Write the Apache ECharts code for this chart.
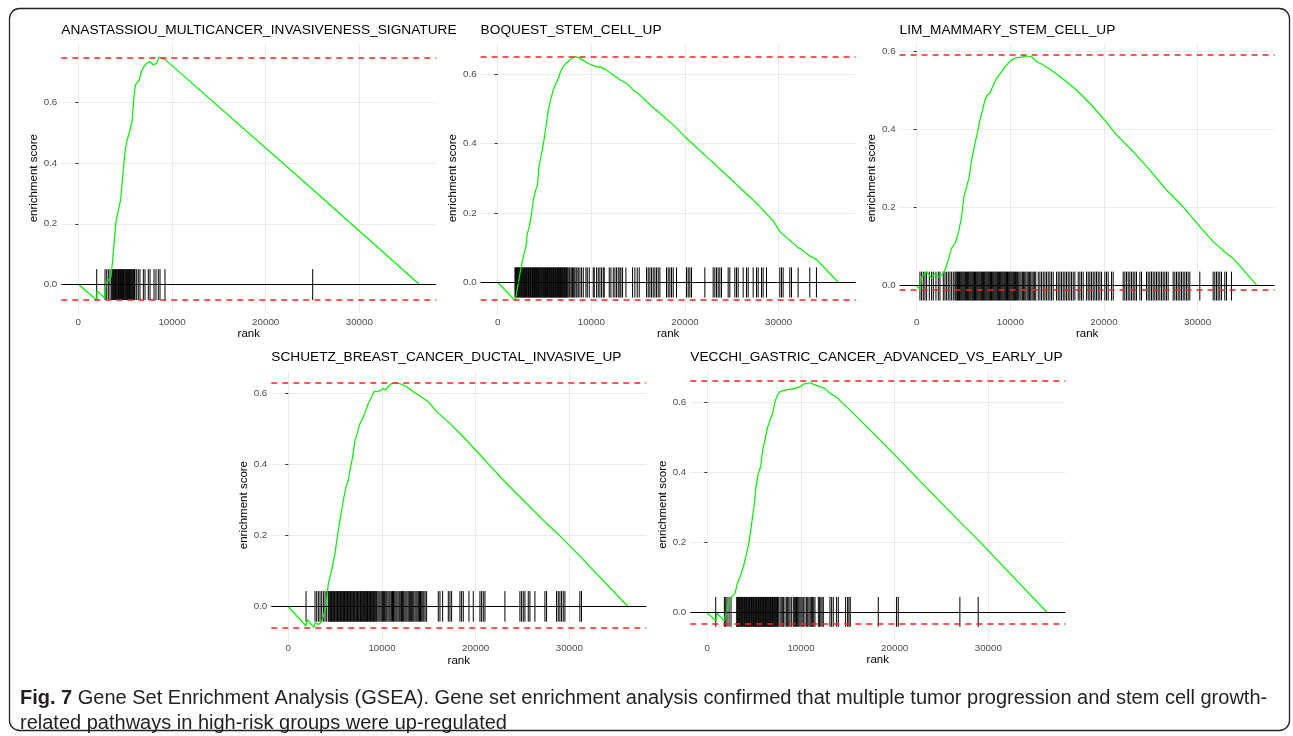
<!DOCTYPE html>
<html>
<head>
<meta charset="utf-8">
<script src="https://cdn.jsdelivr.net/npm/echarts@6/dist/echarts.min.js"></script>
<style>
  html, body { margin: 0; padding: 0; background: #fff; }
  #chart { width: 1293px; height: 736px; }
</style>
</head>
<body>
<div id="chart"></div>
<script>
// gene set names (panel titles)
const setNames = [
  'ANASTASSIOU_MULTICANCER_INVASIVENESS_SIGNATURE',
  'BOQUEST_STEM_CELL_UP',
  'LIM_MAMMARY_STEM_CELL_UP',
  'SCHUETZ_BREAST_CANCER_DUCTAL_INVASIVE_UP',
  'VECCHI_GASTRIC_CANCER_ADVANCED_VS_EARLY_UP'
]
const xTicks = [0, 10000, 20000, 30000]
const yTicks = [0, 0.2, 0.4, 0.6]

// max / min of running enrichment score (red dashed lines)
const esMax = [0.754, 0.653, 0.588, 0.629, 0.655]
const esMin = [-0.053, -0.052, -0.013, -0.058, -0.0265]
// vertical extent of the hit ticks
const tickTop = [0.05, 0.043, 0.036, 0.044, 0.045]
const tickBottom = [-0.052, -0.044, -0.038, -0.042, -0.04]

// running enrichment score [rank, es]
const es1 = [[0,0],[1956,-0.052],[1992,-0.021],[2810,-0.046],[2952,0.006],[3237,0.014],[3486,0.025],[3664,0.08],[3842,0.146],[4020,0.207],[4162,0.229],[4375,0.235],[4517,0.279],[4731,0.356],[4944,0.427],[5158,0.471],[5371,0.493],[5513,0.499],[5727,0.537],[5940,0.62],[6083,0.659],[6296,0.664],[6509,0.675],[6723,0.703],[7007,0.719],[7292,0.73],[7648,0.736],[8003,0.725],[8359,0.73],[8608,0.75],[8786,0.754],[9248,0.743],[25006,0.314],[36389,0]]
const es2 = [[0,0],[1885,-0.053],[2383,0.026],[2739,0.074],[3024,0.103],[3166,0.141],[3379,0.16],[3628,0.199],[3806,0.2375],[4055,0.266],[4233,0.276],[4411,0.334],[4695,0.372],[4944,0.41],[5158,0.449],[5407,0.497],[5656,0.526],[5940,0.555],[6225,0.574],[6474,0.588],[6723,0.608],[7007,0.622],[7292,0.632],[7541,0.637],[7897,0.646],[8252,0.651],[8608,0.649],[8964,0.643],[9497,0.634],[10031,0.627],[10564,0.622],[11098,0.62],[11631,0.612],[12343,0.598],[13054,0.584],[13765,0.574],[14477,0.555],[15188,0.54],[16255,0.512],[17322,0.4875],[18745,0.454],[19990,0.42],[22302,0.3625],[24792,0.3],[27282,0.2375],[29416,0.178],[30128,0.146],[32084,0.1],[32440,0.095],[33330,0.076],[34041,0.066],[36353,0]]
const es3 = [[0,0],[356,-0.011],[427,-0.003],[534,0.023],[640,0.027],[1067,0.036],[1600,0.019],[1956,0.032],[2312,0.023],[2668,0.027],[3023,0.04],[3379,0.066],[3735,0.096],[4091,0.108],[4446,0.134],[4802,0.177],[5051,0.228],[5336,0.2535],[5620,0.279],[5869,0.322],[6225,0.3645],[6474,0.39],[6758,0.424],[7043,0.45],[7292,0.4755],[7541,0.488],[7825,0.4925],[8181,0.514],[8537,0.531],[9070,0.548],[9604,0.565],[10137,0.578],[10671,0.584],[11204,0.585],[11738,0.588],[12272,0.586],[12806,0.574],[13517,0.565],[14228,0.554],[14940,0.542],[16007,0.522],[17074,0.501],[18497,0.467],[19920,0.4285],[21342,0.386],[23121,0.343],[24899,0.296],[26678,0.245],[28456,0.202],[30235,0.151],[31658,0.1127],[33081,0.083],[33792,0.07],[36353,0]]
const es4 = [[0,0],[1885,-0.054],[2027,-0.036],[2739,-0.058],[2881,-0.045],[3201,-0.05],[3557,-0.042],[4020,0],[4268,0.0655],[4624,0.103],[4980,0.15],[5229,0.197],[5513,0.243],[5869,0.2995],[6154,0.337],[6403,0.356],[6652,0.393],[6865,0.421],[7114,0.468],[7363,0.487],[7648,0.515],[7932,0.529],[8217,0.548],[8537,0.571],[8893,0.59],[9142,0.604],[9426,0.604],[9782,0.607],[10137,0.613],[10386,0.609],[10671,0.618],[11027,0.627],[11560,0.629],[12094,0.625],[12628,0.618],[13339,0.604],[14050,0.592],[14940,0.576],[15829,0.548],[17251,0.515],[18674,0.4775],[20808,0.417],[22943,0.356],[24721,0.309],[27567,0.234],[28634,0.208],[31124,0.142],[36282,0]]
const es5 = [[0,0],[925,-0.024],[996,0],[1814,-0.024],[1992,-0.002],[2241,0.027],[2597,0.046],[2952,0.055],[3201,0.0835],[3486,0.1026],[3842,0.131],[4197,0.169],[4482,0.207],[4731,0.2545],[4980,0.302],[5193,0.359],[5442,0.397],[5691,0.416],[5905,0.4635],[6154,0.492],[6403,0.525],[6687,0.549],[6972,0.568],[7221,0.601],[7470,0.62],[7754,0.63],[8288,0.634],[8821,0.636],[9355,0.639],[9889,0.644],[10422,0.653],[10956,0.655],[11489,0.649],[12023,0.644],[12556,0.639],[13090,0.625],[13801,0.6135],[15224,0.577],[18248,0.497],[20204,0.444],[26962,0.259],[28919,0.207],[36318,0]]

// ranks of the gene set members (hit ticks)
const hits1 = [1960,2850,3030,3200,3380,3560,3610,3680,3740,3830,3890,3960,4020,4100,4150,4230,4300,4360,4420,4490,4560,4620,4700,4770,4830,4900,4980,5060,5120,5190,5260,5340,5410,5470,5550,5620,5700,5760,5840,5910,5990,6050,6230,6400,6580,6940,7120,7470,7650,8080,8290,8540,8720,9250,25020]
const hits2 = [1850,1910,1990,2050,2120,2190,2260,2320,2400,2470,2530,2600,2680,2740,2810,2880,2950,3020,3090,3150,3230,3300,3360,3440,3510,3570,3650,3720,3790,3850,3930,4000,4060,4140,4210,4270,4350,4420,4490,4550,4630,4700,4760,4840,4910,4980,5040,5120,5190,5250,5330,5400,5470,5530,5610,5680,5740,5820,5890,5960,6020,6100,6170,6230,6310,6380,6450,6510,6590,6660,6720,6800,6870,6940,7000,7080,7150,7210,7290,7360,7430,7520,7640,7730,7860,7990,8080,8230,8370,8470,8610,8786,8964,9142,9426,9568,9782,10209,10316,10564,10742,10920,11098,11276,11382,11916,12094,12343,12521,12699,12877,13054,13161,13339,13695,14406,14655,14904,15117,15900,16078,16256,16433,16611,16789,16967,17144,17322,18034,18212,18390,18568,18745,19101,20168,20346,20524,20702,22124,23014,23192,23370,23547,23725,23903,24614,24792,25325,25503,25681,26215,26571,26748,27282,27638,27816,28171,28349,28705,30128,30306,30483,31195,31373,32084,33329,34040]
const hits3 = [352,530,708,886,1064,1352,1600,1778,2063,2312,2490,2846,3023,3201,3379,3557,3735,3913,4090,4180,4290,4370,4480,4570,4660,4760,4850,4950,5040,5140,5230,5330,5420,5520,5610,5710,5800,5900,5990,6090,6180,6280,6370,6470,6560,6660,6750,6850,6940,7040,7130,7230,7320,7420,7510,7610,7700,7800,7890,7990,8080,8180,8270,8370,8460,8560,8650,8750,8840,8940,9030,9130,9220,9320,9410,9510,9600,9700,9790,9890,9980,10080,10170,10270,10360,10460,10550,10650,10780,10900,11030,11150,11290,11400,11540,11660,11800,11920,12060,12180,12320,12450,12600,12720,12983,13161,13339,13517,13695,13872,14050,14228,14406,14584,14940,15117,15295,15473,15651,15829,16007,16184,16362,16540,16718,16896,17251,17429,17607,17785,18141,18319,18496,18674,18852,19030,19208,19386,19564,19741,20097,20275,20453,20808,20986,22053,22231,22409,22587,22765,22943,23121,23298,23476,23832,24010,24543,24721,24899,25077,25255,25433,25610,25788,25966,26144,26322,26500,26678,26856,27389,27567,27745,27923,28101,28279,28456,28634,28812,28990,29168,30235,31658,31836,32013,32191,32369,32547,32903,33081,33614]
const hits4 = [1889,2849,3027,3205,3383,3561,3739,3916,4094,4272,4350,4440,4510,4600,4680,4760,4840,4920,5000,5090,5170,5250,5330,5410,5490,5580,5660,5740,5820,5900,5990,6070,6150,6230,6310,6400,6480,6560,6640,6720,6810,6890,6970,7050,7130,7220,7300,7380,7460,7540,7630,7710,7790,7870,7950,8040,8120,8200,8280,8360,8450,8530,8610,8690,8770,8860,8940,9020,9100,9180,9270,9350,9430,9560,9680,9790,9920,10040,10150,10280,10400,10510,10640,10760,10870,11000,11120,11230,11360,11480,11590,11720,11840,11950,12080,12200,12310,12440,12560,12670,12800,12920,13030,13160,13280,13390,13520,13640,13750,13880,14000,14110,14240,14360,14470,14600,14765,16010,16188,16473,17078,17256,17434,18323,18501,18679,19284,19746,20458,20636,20813,20991,23125,24726,24904,25082,25260,25616,25793,26327,27394,27572,28639,28817,28995,29173,29351,29529,31129,31302]
const hits5 = [893,1818,1960,2102,2316,2529,3134,3210,3290,3360,3440,3510,3590,3660,3740,3810,3890,3960,4040,4110,4190,4260,4340,4410,4490,4560,4640,4710,4790,4860,4940,5010,5090,5160,5240,5310,5390,5460,5540,5610,5690,5760,5840,5910,5990,6060,6140,6210,6290,6360,6440,6510,6590,6660,6740,6810,6890,6960,7040,7110,7190,7260,7340,7410,7490,7580,7758,7880,8000,8120,8291,8469,8580,8700,8830,9003,9180,9290,9400,9520,9640,9760,9880,10000,10120,10250,10425,10600,10720,10850,10980,11110,11240,11360,11490,11850,11990,12120,12250,12381,13092,13270,13448,13803,13981,14764,14977,15119,15262,18250,20206,20384,26964,28920]

const captionLines = [
  'Gene Set Enrichment Analysis (GSEA). Gene set enrichment analysis confirmed that multiple tumor progression and stem cell growth-',
  'related pathways in high-risk groups were up-regulated'
]

const esList = [es1, es2, es3, es4, es5]
const hitList = [hits1, hits2, hits3, hits4, hits5]

const FONT = '"Liberation Sans", Arial, Helvetica, sans-serif'
// plot areas, in px
const panels = [
  { left: 61.3, top: 43.5, height: 269.5, yMin: -0.0948, yMax: 0.7955 },
  { left: 480.6, top: 43.5, height: 269.5, yMin: -0.0886, yMax: 0.6888 },
  { left: 899.6, top: 43.5, height: 269.5, yMin: -0.0699, yMax: 0.620 },
  { left: 271.3, top: 370.7, height: 268.8, yMin: -0.092, yMax: 0.663 },
  { left: 690.3, top: 370.5, height: 268.5, yMin: -0.0748, yMax: 0.690 }
]
const W = 375

const chart = echarts.init(document.getElementById('chart'))

const grid = [], xAxis = [], yAxis = [], series = [], title = []
const redDash = { color: '#ff2020', type: [6, 5], width: 1.7, opacity: 1 }

panels.forEach((p, i) => {
  grid.push({ left: p.left, top: p.top, width: W, height: p.height, containLabel: false })
  title.push({
    text: setNames[i], left: p.left, top: p.top - 20.5, padding: 0,
    textStyle: { fontSize: 13.7, fontWeight: 'normal', color: '#000', fontFamily: FONT }
  })
  xAxis.push({
    type: 'value', gridIndex: i, min: -1820, max: 38220,
    name: 'rank', nameLocation: 'middle', nameGap: 15,
    nameTextStyle: { color: '#000', fontSize: 11.5, fontFamily: FONT },
    axisLine: { show: false },
    axisTick: { show: false, customValues: xTicks },
    axisLabel: { customValues: xTicks, color: '#4d4d4d', fontSize: 9.8, margin: 4, fontFamily: FONT,
      formatter: v => String(v) },
    splitLine: { show: true, lineStyle: { color: '#ebebeb', width: 1 } }
  })
  yAxis.push({
    type: 'value', gridIndex: i, min: p.yMin, max: p.yMax,
    name: 'enrichment score', nameLocation: 'middle', nameGap: 21, nameRotate: 90,
    nameTextStyle: { color: '#000', fontSize: 11.5, fontFamily: FONT },
    axisLine: { show: false },
    axisTick: { show: true, length: 3, customValues: yTicks, lineStyle: { color: '#333' } },
    axisLabel: { customValues: yTicks, color: '#4d4d4d', fontSize: 9.8, margin: 4, fontFamily: FONT,
      formatter: v => v.toFixed(1) },
    splitLine: { show: true, lineStyle: { color: '#ebebeb', width: 1 } }
  })
  // hit ticks
  series.push({
    type: 'custom', xAxisIndex: i, yAxisIndex: i, z: 2, silent: true,
    data: hitList[i].map(r => [r, tickTop[i], tickBottom[i]]),
    encode: { x: 0, y: [1, 2] },
    renderItem: (params, api) => {
      const a = api.coord([api.value(0), api.value(1)])
      const b = api.coord([api.value(0), api.value(2)])
      return {
        type: 'line',
        shape: { x1: a[0], y1: a[1], x2: b[0], y2: b[1] },
        style: { stroke: '#000', lineWidth: 1 }
      }
    }
  })
  // zero line
  series.push({
    type: 'line', xAxisIndex: i, yAxisIndex: i, z: 3, data: [], silent: true,
    markLine: {
      symbol: 'none', silent: true, label: { show: false }, animation: false,
      data: [{ yAxis: 0, lineStyle: { color: '#000', type: 'solid', width: 1.2 } }]
    }
  })
  // running enrichment score
  series.push({
    type: 'line', xAxisIndex: i, yAxisIndex: i, z: 4, silent: true,
    data: esList[i], showSymbol: false,
    lineStyle: { color: '#00f000', width: 1.2 }
  })
  // max / min lines
  series.push({
    type: 'line', xAxisIndex: i, yAxisIndex: i, z: 5, data: [], silent: true,
    color: '#ff2020',
    markLine: {
      symbol: 'none', silent: true, label: { show: false }, animation: false,
      lineStyle: redDash,
      emphasis: { disabled: true },
      data: [{ yAxis: esMax[i], lineStyle: redDash }, { yAxis: esMin[i], lineStyle: redDash }]
    }
  })
})

title.push({
  text: '{b|Fig. 7} ' + captionLines[0] + '\n' + captionLines[1],
  left: 20, top: 686, padding: 0,
  textStyle: {
    fontSize: 20, fontWeight: 'normal', color: '#231f20', lineHeight: 25, fontFamily: FONT,
    rich: { b: { fontWeight: 'bold', fontSize: 20, color: '#231f20', lineHeight: 25, fontFamily: FONT } }
  }
})

chart.setOption({
  animation: false,
  title,
  grid, xAxis, yAxis, series,
  graphic: [{
    type: 'rect', silent: true, z: -1,
    shape: { x: 9.5, y: 8.5, width: 1280, height: 722, r: 10 },
    style: { fill: 'none', stroke: '#222', lineWidth: 1.3 }
  }]
})
</script>
</body>
</html>
